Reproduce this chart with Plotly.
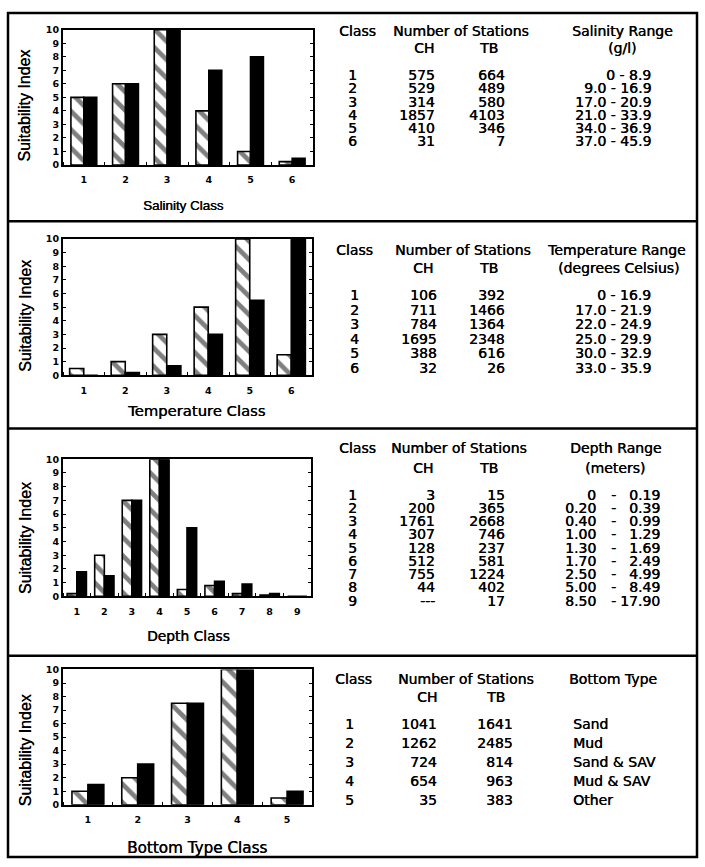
import plotly.graph_objects as go

W, H = 705, 867

# ---- Suitability index per class (CH = hatched bars, TB = solid bars) ----
salinity_classes = [1, 2, 3, 4, 5, 6]
salinity_ch = [5, 6, 10, 4, 1, 0.25]
salinity_tb = [5, 6, 10, 7, 8, 0.5]

temperature_classes = [1, 2, 3, 4, 5, 6]
temperature_ch = [0.5, 1, 3, 5, 10, 1.5]
temperature_tb = [0, 0.2, 0.7, 3, 5.5, 10]

depth_classes = [1, 2, 3, 4, 5, 6, 7, 8, 9]
depth_ch = [0.2, 3, 7, 10, 0.5, 0.8, 0.2, 0.1, 0]
depth_tb = [1.8, 1.5, 7, 10, 5, 1.1, 0.9, 0.2, 0]

bottom_classes = [1, 2, 3, 4, 5]
bottom_ch = [1, 2, 7.5, 10, 0.5]
bottom_tb = [1.5, 3, 7.5, 10, 1]

# ---- Number of stations and class ranges ----
salinity_n_ch = ["575", "529", "314", "1857", "410", "31"]
salinity_n_tb = ["664", "489", "580", "4103", "346", "7"]
salinity_range = ["0 - 8.9", "9.0 - 16.9", "17.0 - 20.9", "21.0 - 33.9",
                  "34.0 - 36.9", "37.0 - 45.9"]

temperature_n_ch = ["106", "711", "784", "1695", "388", "32"]
temperature_n_tb = ["392", "1466", "1364", "2348", "616", "26"]
temperature_range = ["0 - 16.9", "17.0 - 21.9", "22.0 - 24.9", "25.0 - 29.9",
                     "30.0 - 32.9", "33.0 - 35.9"]

depth_n_ch = ["3", "200", "1761", "307", "128", "512", "755", "44", "---"]
depth_n_tb = ["15", "365", "2668", "746", "237", "581", "1224", "402", "17"]
depth_low = ["0", "0.20", "0.40", "1.00", "1.30", "1.70", "2.50", "5.00", "8.50"]
depth_high = ["0.19", "0.39", "0.99", "1.29", "1.69", "2.49", "4.99", "8.49", "17.90"]

bottom_n_ch = ["1041", "1262", "724", "654", "35"]
bottom_n_tb = ["1641", "2485", "814", "963", "383"]
bottom_type = ["Sand", "Mud", "Sand & SAV", "Mud & SAV", "Other"]

FONT = "DejaVu Sans, Liberation Sans, Arial, sans-serif"
FONT_NARROW = "Liberation Sans, Arial, sans-serif"
INK = "0.4px 0px 0px black"   # slightly heavier strokes for printed-looking text


def fx(px):
    return px / W


def fy(py):
    return 1 - py / H


fig = go.Figure()
annotations = []
shapes = []


def text(x, y, s, anchor="center", size=14, family=FONT):
    annotations.append(dict(
        x=fx(x), y=fy(y), xref="paper", yref="paper", text=s,
        showarrow=False, xanchor=anchor, yanchor="middle",
        font=dict(family=family, size=size, color="black", shadow=INK)))


panels = [
    dict(classes=salinity_classes, ch=salinity_ch, tb=salinity_tb,
         box=(63, 24, 313, 161), barw=0.31, xtitle="Salinity Class",
         xt=(183, 202), xts=13.4, xtf=FONT_NARROW, yt=101),
    dict(classes=temperature_classes, ch=temperature_ch, tb=temperature_tb,
         box=(63, 236, 312, 374), barw=0.34, xtitle="Temperature Class",
         xt=(196, 410), xts=14.8, xtf=FONT, yt=314),
    dict(classes=depth_classes, ch=depth_ch, tb=depth_tb,
         box=(63, 459, 311, 598), barw=0.35, xtitle="Depth Class",
         xt=(188, 638), xts=13.8, xtf=FONT, yt=539),
    dict(classes=bottom_classes, ch=bottom_ch, tb=bottom_tb,
         box=(63, 672, 312, 809), barw=0.32, xtitle="Bottom Type Class",
         xt=(197, 853), xts=15.2, xtf=FONT, yt=754),
]

axes = {}
for i, p in enumerate(panels, start=1):
    xa = "x" if i == 1 else f"x{i}"
    ya = "y" if i == 1 else f"y{i}"
    w = p["barw"]
    fig.add_trace(go.Bar(
        x=p["classes"], y=p["ch"], xaxis=xa, yaxis=ya, name="CH",
        width=w, offset=-w,
        marker=dict(color="white", line=dict(color="black", width=1.6),
                    pattern=dict(shape="\\", fgcolor="black", bgcolor="white",
                                 size=13, solidity=0.36)),
        showlegend=False))
    fig.add_trace(go.Bar(
        x=p["classes"], y=p["tb"], xaxis=xa, yaxis=ya, name="TB",
        width=w, offset=0,
        marker=dict(color="black", line=dict(color="black", width=1.6)),
        showlegend=False))

    x0, y0, x1, y1 = p["box"]
    n = len(p["classes"])
    key = "" if i == 1 else str(i)
    axes["xaxis" + key] = dict(
        domain=[fx(x0), fx(x1)], anchor=ya, range=[0.5, n + 0.5],
        tickmode="array", tickvals=p["classes"],
        ticktext=[str(c) for c in p["classes"]], ticks="",
        minor=dict(tickmode="linear", tick0=0.5, dtick=1, ticks="inside",
                   ticklen=3, tickcolor="black", showgrid=False),
        showline=True, linecolor="black", linewidth=2, mirror=True,
        tickfont=dict(family=FONT, size=9.5, color="black", weight="bold"),
        ticklabelstandoff=5, showgrid=False, zeroline=False, fixedrange=True)
    axes["yaxis" + key] = dict(
        domain=[fy(y1), fy(y0)], anchor=xa, range=[0, 10], dtick=1,
        showline=True, linecolor="black", linewidth=2, mirror="allticks",
        ticks="inside", ticklen=3, tickcolor="black",
        tickfont=dict(family=FONT, size=9.5, color="black", weight="bold"),
        showgrid=False, zeroline=False, fixedrange=True)

    # axis titles
    annotations.append(dict(
        x=fx(25), y=fy(p["yt"]), xref="paper", yref="paper",
        text="Suitability Index", textangle=-90, showarrow=False,
        xanchor="center", yanchor="middle",
        font=dict(family=FONT_NARROW, size=16, color="black", shadow=INK)))
    text(p["xt"][0], p["xt"][1], p["xtitle"], size=p["xts"], family=p["xtf"])


# ---- tables ----
def table(header_y, sub_y, row_y0, row_dy, class_x, class_hx, ch_x, tb_x,
          nos_x, ch_hx, tb_hx, n_ch, n_tb):
    text(class_hx, header_y, "Class")
    text(nos_x, header_y, "Number of Stations")
    text(ch_hx, sub_y, "CH")
    text(tb_hx, sub_y, "TB")
    for k in range(len(n_ch)):
        y = row_y0 + row_dy * k
        text(class_x, y, str(k + 1))
        text(ch_x, y, n_ch[k], anchor="right")
        text(tb_x, y, n_tb[k], anchor="right")


# salinity
table(25, 43, 70, 13.4, 353, 358, 437, 507, 461, 424, 488,
      salinity_n_ch, salinity_n_tb)
text(622, 25, "Salinity Range")
text(622, 43, "(g/l)")
for k, r in enumerate(salinity_range):
    text(653, 70 + 13.4 * k, r, anchor="right")

# temperature
table(247, 265, 293, 14.7, 355, 355, 439, 507, 463, 423, 488,
      temperature_n_ch, temperature_n_tb)
text(616, 247, "Temperature Range")
text(618, 265, "(degrees Celsius)")
for k, r in enumerate(temperature_range):
    text(653, 293 + 14.7 * k, r, anchor="right")

# depth
table(448, 468, 495, 13.4, 353, 358, 437, 507, 459, 423, 488,
      depth_n_ch, depth_n_tb)
text(615, 448, "Depth Range")
text(615, 468, "(meters)")
for k in range(len(depth_low)):
    y = 495 + 13.4 * k
    text(598, y, depth_low[k], anchor="right")
    text(613, y, "-")
    text(662, y, depth_high[k], anchor="right")

# bottom type
table(682, 700, 727, 19.3, 349, 354, 439, 515, 466, 427, 495,
      bottom_n_ch, bottom_n_tb)
text(567, 682, "Bottom Type", anchor="left")
for k, t in enumerate(bottom_type):
    text(571, 727 + 19.3 * k, t, anchor="left")

# ---- frame and panel separators ----
shapes.append(dict(type="rect", xref="paper", yref="paper",
                   x0=fx(8), x1=fx(697), y0=fy(862), y1=fy(7),
                   line=dict(color="black", width=2.5)))
for sy in (218, 428, 658):
    shapes.append(dict(type="line", xref="paper", yref="paper",
                       x0=fx(8), x1=fx(697), y0=fy(sy), y1=fy(sy),
                       line=dict(color="black", width=2.5)))

fig.update_layout(
    width=W, height=H, margin=dict(l=0, r=0, t=0, b=0),
    paper_bgcolor="white", plot_bgcolor="white",
    barmode="overlay",
    annotations=annotations, shapes=shapes, **axes)

fig.write_html("out.html")
